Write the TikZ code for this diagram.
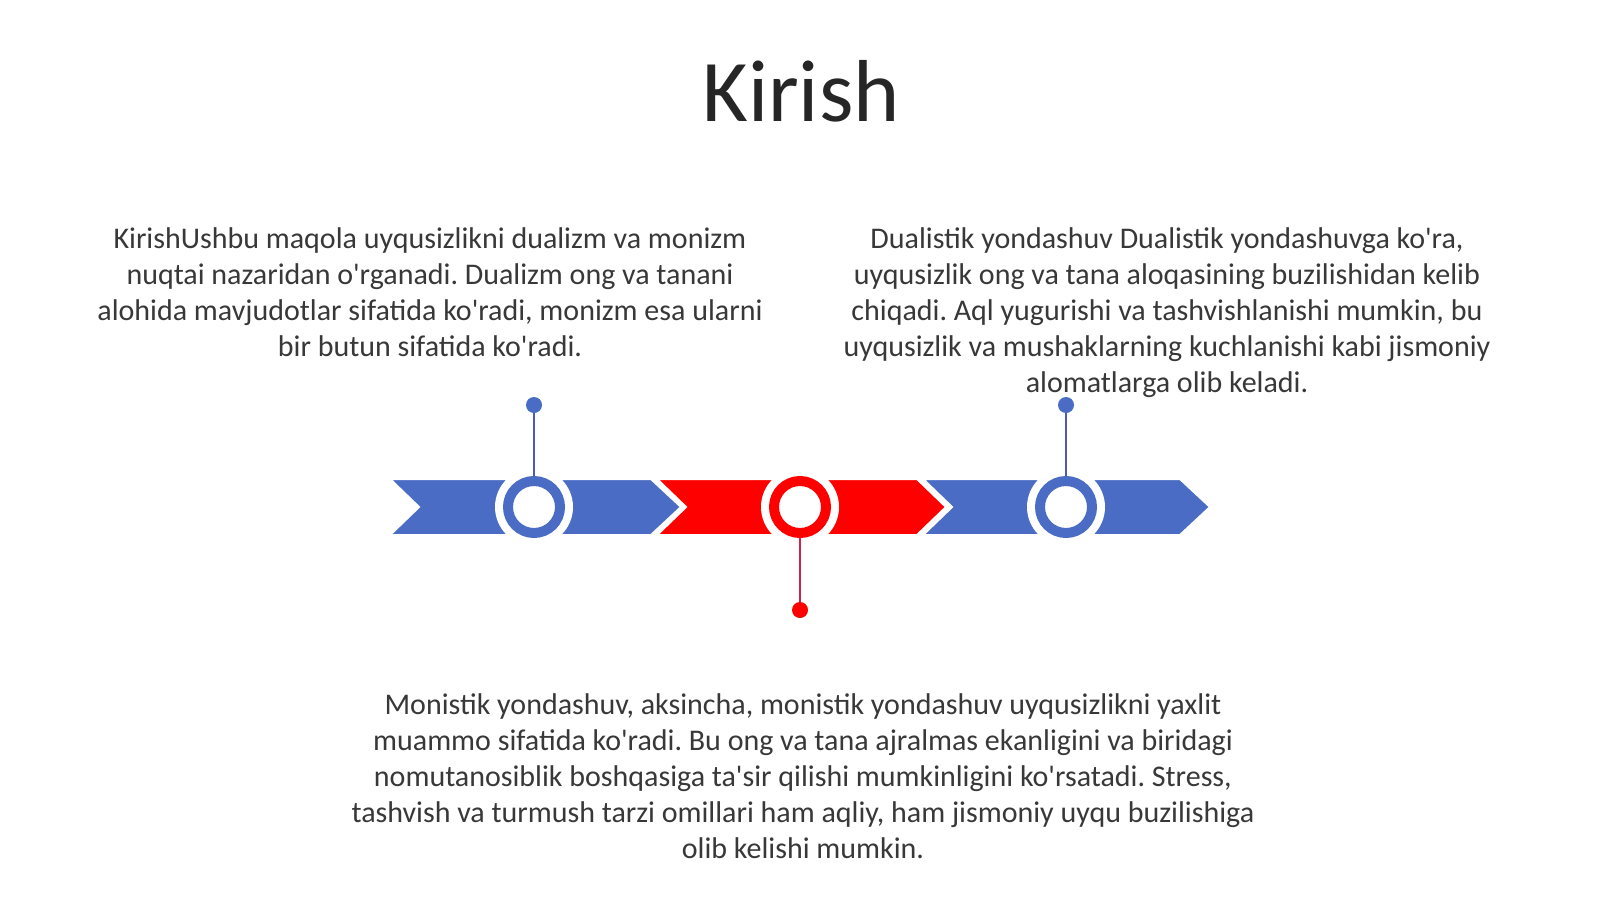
\documentclass[tikz,border=0pt]{standalone}
\usepackage{fontspec}
\setmainfont{Carlito}[Ligatures=TeXOff]
\definecolor{tlblue}{RGB}{74,108,196}
\definecolor{tlred}{RGB}{255,0,0}
\definecolor{stemblue}{RGB}{74,92,184}
\definecolor{stemred}{RGB}{214,32,74}
\definecolor{txt}{RGB}{56,56,56}
\definecolor{ttl}{RGB}{38,38,38}
\frenchspacing
\begin{document}
\begin{tikzpicture}[x=1pt,y=-1pt,
  body/.style={align=center,inner sep=0pt,text=txt,font=\fontsize{30}{36}\selectfont},
  chev/.style={draw=white,line width=2pt},
  halo/.style={circle,fill=white,minimum size=78pt,inner sep=0pt},
  ring/.style={circle,draw=#1,line width=10pt,fill=white,minimum size=52pt,inner sep=0pt},
  dotn/.style={circle,fill=#1,minimum size=16pt,inner sep=0pt},
  stem/.style={draw=#1,line width=2.5pt}]
\useasboundingbox[fill=white] (0,0) rectangle (1600,899);
% title
\node[anchor=base,inner sep=0pt,text=ttl,font=\fontsize{88}{100}\selectfont] (title) at (801,121) {Kirish};
% text blocks
\node[body,anchor=north] (t1) at (430,227) {KirishUshbu maqola uyqusizlikni dualizm va monizm\\ nuqtai nazaridan o'rganadi. Dualizm ong va tanani\\ alohida mavjudotlar sifatida ko'radi, monizm esa ularni\\ bir butun sifatida ko'radi.};
\node[body,anchor=north] (t2) at (1167,227) {Dualistik yondashuv Dualistik yondashuvga ko'ra,\\ uyqusizlik ong va tana aloqasining buzilishidan kelib\\ chiqadi. Aql yugurishi va tashvishlanishi mumkin, bu\\ uyqusizlik va mushaklarning kuchlanishi kabi jismoniy\\ alomatlarga olib keladi.};
\node[body,anchor=north] (t3) at (803,693) {Monistik yondashuv, aksincha, monistik yondashuv uyqusizlikni yaxlit\\ muammo sifatida ko'radi. Bu ong va tana ajralmas ekanligini va biridagi\\ nomutanosiblik boshqasiga ta'sir qilishi mumkinligini ko'rsatadi. Stress,\\ tashvish va turmush tarzi omillari ham aqliy, ham jismoniy uyqu buzilishiga\\ olib kelishi mumkin.};
% chevrons
\fill[tlblue,chev] (390,479) -- (651,479) -- (681,507) -- (651,535) -- (390,535) -- (419,507) -- cycle;
\fill[tlred,chev] (657,479) -- (917,479) -- (946,507) -- (917,535) -- (657,535) -- (686,507) -- cycle;
\fill[tlblue,chev] (923,479) -- (1180,479) -- (1210,507) -- (1180,535) -- (923,535) -- (952,507) -- cycle;
% halos and rings
\node[halo] (h1) at (534,507) {};
\node[halo] (h2) at (800,507) {};
\node[halo] (h3) at (1066,507) {};
\node[ring=tlblue] (r1) at (534,507) {};
\node[ring=tlred] (r2) at (800,507) {};
\node[ring=tlblue] (r3) at (1066,507) {};
% dots
\node[dotn=tlblue] (d1) at (534,405) {};
\node[dotn=tlred] (d2) at (800,610) {};
\node[dotn=tlblue] (d3) at (1066,405) {};
% stems
\draw[stem=stemblue] (d1) -- (r1);
\draw[stem=stemred] (r2) -- (d2);
\draw[stem=stemblue] (d3) -- (r3);
\end{tikzpicture}
\end{document}
